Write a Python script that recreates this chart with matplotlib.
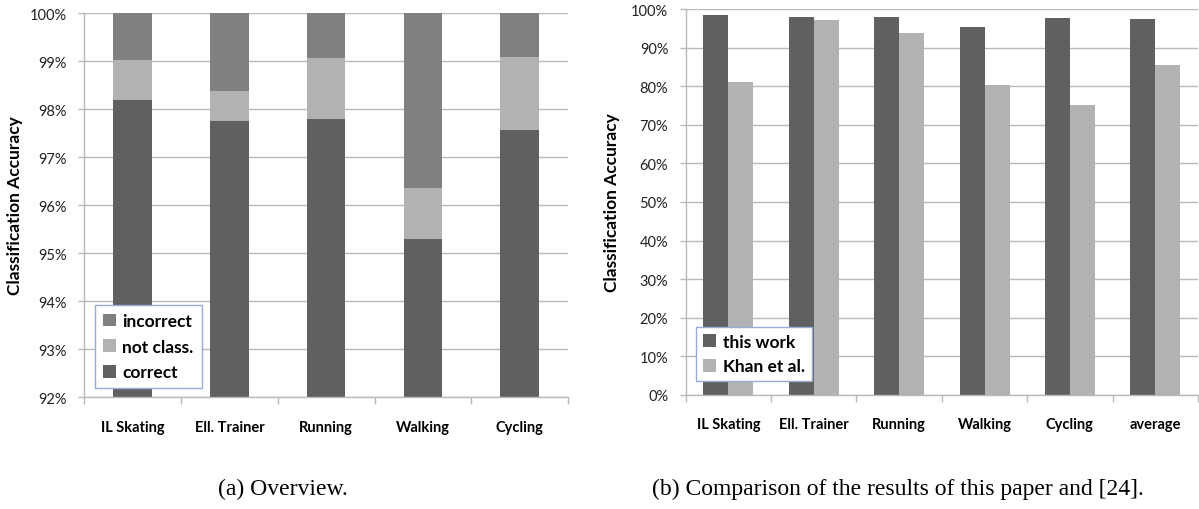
import numpy as np
import matplotlib
matplotlib.use("Agg")
import matplotlib.pyplot as plt
from matplotlib.ticker import FixedLocator, PercentFormatter

plt.rcParams['font.family'] = ['Lato', 'DejaVu Sans']

# (a) overview: stacked shares per activity, in percent
activities = ["IL Skating", "Ell. Trainer", "Running", "Walking", "Cycling"]
correct = [98.19, 97.75, 97.79, 95.29, 97.56]
not_classified = [0.83, 0.625, 1.27, 1.06, 1.52]
incorrect = [100 - c - n for c, n in zip(correct, not_classified)]

# (b) comparison with Khan et al.
compare_labels = ["IL Skating", "Ell. Trainer", "Running", "Walking", "Cycling", "average"]
this_work = [98.5, 98.0, 98.0, 95.4, 97.75, 97.5]
khan_et_al = [81.1, 97.2, 93.9, 80.4, 75.2, 85.55]

C_DARK = "#606060"
C_MID = "#808080"
C_LIGHT = "#b2b2b2"
C_GRID = "#b9b9b9"
C_LEGEND = "#95acd6"

W, H = 1199, 510
fig = plt.figure(figsize=(W / 100, H / 100), dpi=100)


def frame(ax, n):
    for s in ("top", "right"):
        ax.spines[s].set_visible(False)
    for s in ("left", "bottom"):
        ax.spines[s].set_color(C_GRID)
        ax.spines[s].set_linewidth(1.0)
    ax.set_xlim(-0.5, n - 0.5)
    ax.yaxis.grid(True, color=C_GRID, linewidth=1.0)
    ax.set_axisbelow(True)
    ax.tick_params(axis="y", length=4.5, width=1.0, color=C_GRID, pad=8,
                   labelsize=10.5, labelcolor="#222222")
    ax.tick_params(axis="x", which="major", length=0, pad=16)
    ax.xaxis.set_minor_locator(FixedLocator(np.arange(n + 1) - 0.5))
    ax.tick_params(axis="x", which="minor", length=5, width=1.0, color=C_GRID)


# ---- (a) stacked bars
ax1 = fig.add_axes([84.3 / W, 1 - 398.3 / H, (568 - 84.3) / W, (398.3 - 14) / H])
x1 = np.arange(len(activities))
b_cor = ax1.bar(x1, correct, width=0.4, color=C_DARK, label="correct")
b_nc = ax1.bar(x1, not_classified, width=0.4, bottom=correct, color=C_LIGHT, label="not class.")
b_inc = ax1.bar(x1, incorrect, width=0.4,
                bottom=[c + n for c, n in zip(correct, not_classified)],
                color=C_MID, label="incorrect")
ax1.set_ylim(92, 100)
ax1.set_yticks(np.arange(92, 101, 1))
ax1.yaxis.set_major_formatter(PercentFormatter(decimals=0))
frame(ax1, len(activities))
ax1.set_xticks(x1)
ax1.set_xticklabels(activities, fontweight="bold", fontsize=10.5)
leg1 = ax1.legend([b_inc, b_nc, b_cor], ["incorrect", "not class.", "correct"],
                  loc="lower left", bbox_to_anchor=(0.0215, 0.024),
                  prop={"weight": "bold", "size": 12.5},
                  handlelength=0.75, handleheight=0.75, handletextpad=0.4,
                  labelspacing=0.55, borderpad=0.45, borderaxespad=0,
                  fancybox=False, framealpha=1, edgecolor=C_LEGEND)
leg1.get_frame().set_linewidth(1.0)

# ---- (b) grouped bars
ax2 = fig.add_axes([685.7 / W, 1 - 395.7 / H, (1198 - 685.7) / W, (395.7 - 10.3) / H])
x2 = np.arange(len(compare_labels))
bw = 0.293
b_tw = ax2.bar(x2 - bw / 2, this_work, width=bw, color=C_DARK, label="this work")
b_kh = ax2.bar(x2 + bw / 2, khan_et_al, width=bw, color=C_LIGHT, label="Khan et al.")
ax2.set_ylim(0, 100)
ax2.set_yticks(np.arange(0, 101, 10))
ax2.yaxis.set_major_formatter(PercentFormatter(decimals=0))
frame(ax2, len(compare_labels))
ax2.set_xticks(x2)
ax2.set_xticklabels(compare_labels, fontweight="bold", fontsize=10.5)
leg2 = ax2.legend([b_tw, b_kh], ["this work", "Khan et al."],
                  loc="lower left", bbox_to_anchor=(0.0195, 0.035),
                  prop={"weight": "bold", "size": 12.5},
                  handlelength=0.75, handleheight=0.75, handletextpad=0.4,
                  labelspacing=0.5, borderpad=0.4, borderaxespad=0,
                  fancybox=False, framealpha=1, edgecolor=C_LEGEND)
leg2.get_frame().set_linewidth(1.0)

# axis titles
fig.text(15 / W, 1 - 206 / H, "Classification Accuracy", rotation=90,
         ha="center", va="center", fontweight="bold", fontsize=12.5)
fig.text(612 / W, 1 - 203 / H, "Classification Accuracy", rotation=90,
         ha="center", va="center", fontweight="bold", fontsize=12.5)

# sub-figure captions
fig.text(283 / W, 1 - 489 / H, "(a) Overview.", ha="center", va="center",
         family="Liberation Serif", fontsize=17)
fig.text(898 / W, 1 - 489 / H, "(b) Comparison of the results of this paper and [24].",
         ha="center", va="center", family="Liberation Serif", fontsize=17)

fig.savefig("out.png", dpi=100)
